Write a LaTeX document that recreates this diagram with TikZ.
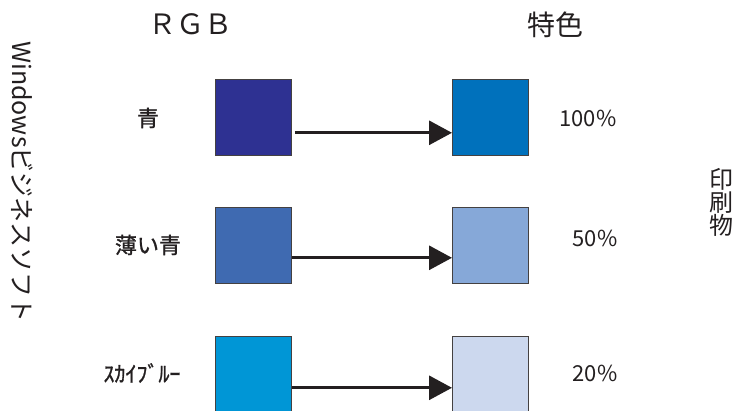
\documentclass[tikz,border=0pt]{standalone}
\usepackage{fontspec}
\setmainfont{Noto Sans CJK JP}
\newfontfamily\labfont[FakeBold=1.2]{Noto Sans CJK JP}
\usetikzlibrary{arrows.meta}
\definecolor{cA}{HTML}{2E3192}
\definecolor{cB}{HTML}{3F6AB1}
\definecolor{cC}{HTML}{0096D6}
\definecolor{sA}{HTML}{0071BC}
\definecolor{sB}{HTML}{86A8D8}
\definecolor{sC}{HTML}{CCD8EE}
\definecolor{ink}{HTML}{231F20}
\tikzset{
  swatch/.style={draw=ink!85, line width=0.8pt, minimum width=76pt, minimum height=76pt, inner sep=0pt, anchor=north west},
  conn/.style={draw=ink, line width=3pt, -{Triangle[length=23pt,width=24pt]}},
  head/.style={font=\fontsize{28}{30}\selectfont, text=ink, inner sep=0pt},
  lab/.style={font=\labfont\fontsize{22}{24}\selectfont, text=ink, inner sep=0pt},
  pct/.style={font=\fontsize{22}{24}\selectfont, text=ink, inner sep=0pt},
  side/.style={font=\fontsize{24}{23}\selectfont, text=ink, inner sep=0pt},
}
\begin{document}
\begin{tikzpicture}[x=1pt,y=-1pt]
\useasboundingbox (0,0) rectangle (736,411);
% column heads
\node[head] (hRGB) at (190,24) {ＲＧＢ};
\node[head] (hSp) at (555,25) {特色};
% swatches
\node[swatch, fill=cA] (l1) at (215,79) {};
\node[swatch, fill=cB] (l2) at (215,207) {};
\node[swatch, fill=cC] (l3) at (215,336) {};
\node[swatch, fill=sA] (r1) at (452,79) {};
\node[swatch, fill=sB] (r2) at (452,207) {};
\node[swatch, fill=sC] (r3) at (452,336) {};
% connectors
\draw[conn] ([xshift=3pt,yshift=23pt]l1.south east) -- ([yshift=23pt]r1.south west);
\draw[conn] ([yshift=26pt]l2.south east) -- ([yshift=26pt]r2.south west);
\draw[conn] ([yshift=25pt]l3.south east) -- ([yshift=25pt]r3.south west);
% labels
\node[lab] (t1) at (148,118) {青};
\node[lab] (t2) at (148,245) {薄い青};
\node[lab] (t3) at (142,373) {ｽｶｲﾌﾞﾙｰ};
\node[pct] (p1) at (588,118) {100\%};
\node[pct] (p2) at (595,238) {50\%};
\node[pct] (p3) at (595,373) {20\%};
% side labels
\node[side, font=\fontsize{25}{26}\selectfont, rotate=-90] (win) at (22,182) {Windowsビジネスソフト};
\node[side, align=center] (prt) at (721,202) {印\\刷\\物};
\end{tikzpicture}
\end{document}
